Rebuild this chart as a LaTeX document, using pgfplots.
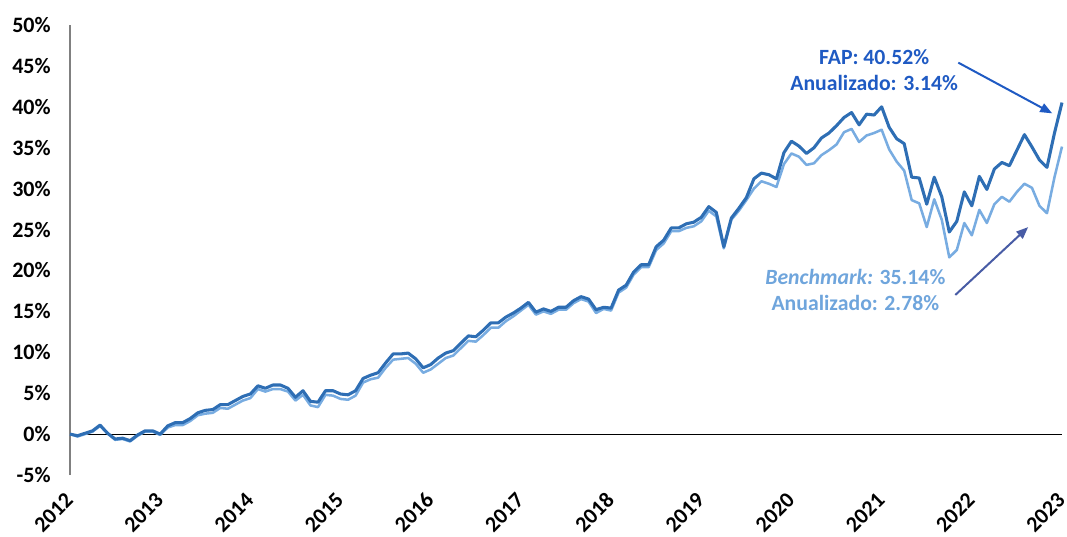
\documentclass[border=0pt]{standalone}
\usepackage{fontspec}
\setmainfont{Carlito}
\usepackage{graphicx}
\usepackage{pgfplots}
\usepackage{pgfplotstable}
\pgfplotsset{compat=1.18}
\usetikzlibrary{arrows.meta}
\definecolor{fapline}{RGB}{46,110,180}
\definecolor{bmline}{RGB}{120,172,225}
\definecolor{faptext}{RGB}{31,90,195}
\definecolor{bmtext}{RGB}{111,165,220}
\definecolor{bmarrow}{RGB}{72,92,165}
\newcommand{\yr}[1]{\rotatebox{45}{#1}}
\pgfplotstableread{
i fap bm
0 0.0 0.0
1 -0.2 -0.3
2 0.1 0.0
3 0.4 0.3
4 1.1 1.0
5 0.1 0.1
6 -0.6 -0.7
7 -0.5 -0.6
8 -0.8 -0.9
9 -0.1 -0.2
10 0.4 0.3
11 0.4 0.3
12 0.0 -0.1
13 1.0 0.8
14 1.4 1.1
15 1.4 1.1
16 1.9 1.6
17 2.6 2.3
18 2.9 2.5
19 3.0 2.6
20 3.6 3.2
21 3.6 3.1
22 4.1 3.6
23 4.6 4.1
24 4.9 4.4
25 5.9 5.5
26 5.6 5.2
27 6.0 5.5
28 6.0 5.5
29 5.6 5.2
30 4.5 4.1
31 5.3 4.8
32 4.0 3.5
33 3.9 3.3
34 5.3 4.8
35 5.3 4.7
36 4.9 4.3
37 4.8 4.2
38 5.3 4.7
39 6.8 6.3
40 7.2 6.7
41 7.5 6.9
42 8.7 8.1
43 9.8 9.1
44 9.8 9.2
45 9.9 9.3
46 9.2 8.6
47 8.1 7.5
48 8.5 7.9
49 9.3 8.6
50 9.9 9.3
51 10.2 9.6
52 11.1 10.5
53 12.0 11.4
54 11.9 11.3
55 12.7 12.1
56 13.6 13.0
57 13.6 13.0
58 14.3 13.8
59 14.8 14.4
60 15.4 15.1
61 16.1 15.8
62 14.9 14.6
63 15.3 15.0
64 15.0 14.7
65 15.5 15.2
66 15.5 15.2
67 16.3 16.0
68 16.8 16.5
69 16.5 16.2
70 15.2 14.8
71 15.5 15.3
72 15.4 15.1
73 17.6 17.3
74 18.2 17.9
75 19.8 19.5
76 20.7 20.4
77 20.7 20.4
78 22.9 22.5
79 23.7 23.3
80 25.2 24.8
81 25.2 24.8
82 25.7 25.2
83 25.9 25.4
84 26.5 26.0
85 27.8 27.3
86 27.1 26.6
87 22.9 22.7
88 26.4 26.2
89 27.6 27.3
90 28.9 28.6
91 31.2 30.0
92 31.9 30.9
93 31.7 30.6
94 31.2 30.2
95 34.4 33.0
96 35.8 34.3
97 35.2 33.9
98 34.3 32.9
99 35.0 33.1
100 36.2 34.1
101 36.8 34.7
102 37.7 35.4
103 38.7 36.9
104 39.3 37.3
105 37.8 35.7
106 39.1 36.5
107 39.0 36.8
108 40.0 37.2
109 37.5 34.8
110 36.1 33.3
111 35.5 32.2
112 31.4 28.6
113 31.3 28.2
114 28.1 25.3
115 31.4 28.7
116 29.0 26.2
117 24.7 21.6
118 26.0 22.5
119 29.6 25.8
120 27.9 24.3
121 31.5 27.4
122 29.9 25.8
123 32.4 28.1
124 33.2 29.0
125 32.8 28.4
126 34.7 29.6
127 36.6 30.6
128 35.1 30.1
129 33.5 27.9
130 32.6 27.0
131 36.8 31.4
132 40.52 35.14
}\data
\begin{document}
\begin{tikzpicture}
\path[use as bounding box] (-52.5pt,-45.75pt) rectangle (747.75pt,356.25pt);
\begin{axis}[
  at={(0,0)}, anchor=south west,
  scale only axis, width=744pt, height=337.5pt,
  xmin=0, xmax=132, ymin=-5, ymax=50,
  axis line style={draw=none},
  major tick length=0pt,
  xtick pos=bottom, ytick pos=left,
  xtick={0,12,...,132},
  xticklabels={\yr{2012},\yr{2013},\yr{2014},\yr{2015},\yr{2016},\yr{2017},\yr{2018},\yr{2019},\yr{2020},\yr{2021},\yr{2022},\yr{2023}},
  ytick={-5,0,5,10,15,20,25,30,35,40,45,50},
  yticklabels={-5\%,0\%,5\%,10\%,15\%,20\%,25\%,30\%,35\%,40\%,45\%,50\%},
  tick label style={font=\fontsize{16.5}{19}\selectfont\bfseries, text=black},
  y tick label style={anchor=east, xshift=-11pt},
  x tick label style={anchor=north east, inner sep=0pt, yshift=-12pt, xshift=3.5pt},
  clip=false,
]
\draw[black!50, line width=0.8pt] (rel axis cs:0,0) -- (rel axis cs:0,1);
\addplot[black, line width=0.75pt, forget plot] coordinates {(0,0) (132,0)};
\addplot[bmline, line width=1.9pt, line join=round] table[x=i, y=bm] {\data};
\addplot[fapline, line width=2.3pt, line join=round] table[x=i, y=fap] {\data};
\node[align=center, text=faptext, font=\fontsize{16.3}{19.5}\selectfont\bfseries] at (axis cs:107.0,44.5) {FAP: 40.52\%\\Anualizado: 3.14\%};
\node[align=center, text=bmtext, font=\fontsize{16.3}{19.5}\selectfont\bfseries] at (axis cs:104.5,17.6) {\textit{Benchmark:} 35.14\%\\Anualizado: 2.78\%};
\draw[faptext, line width=1.5pt, -{Triangle[length=9pt,width=7pt]}] (axis cs:118.2,45.4) -- (axis cs:130.7,39.2);
\draw[bmarrow, line width=1.5pt, -{Triangle[length=9pt,width=7pt]}] (axis cs:117.8,17.0) -- (axis cs:127.5,25.3);
\end{axis}
\end{tikzpicture}
\end{document}
